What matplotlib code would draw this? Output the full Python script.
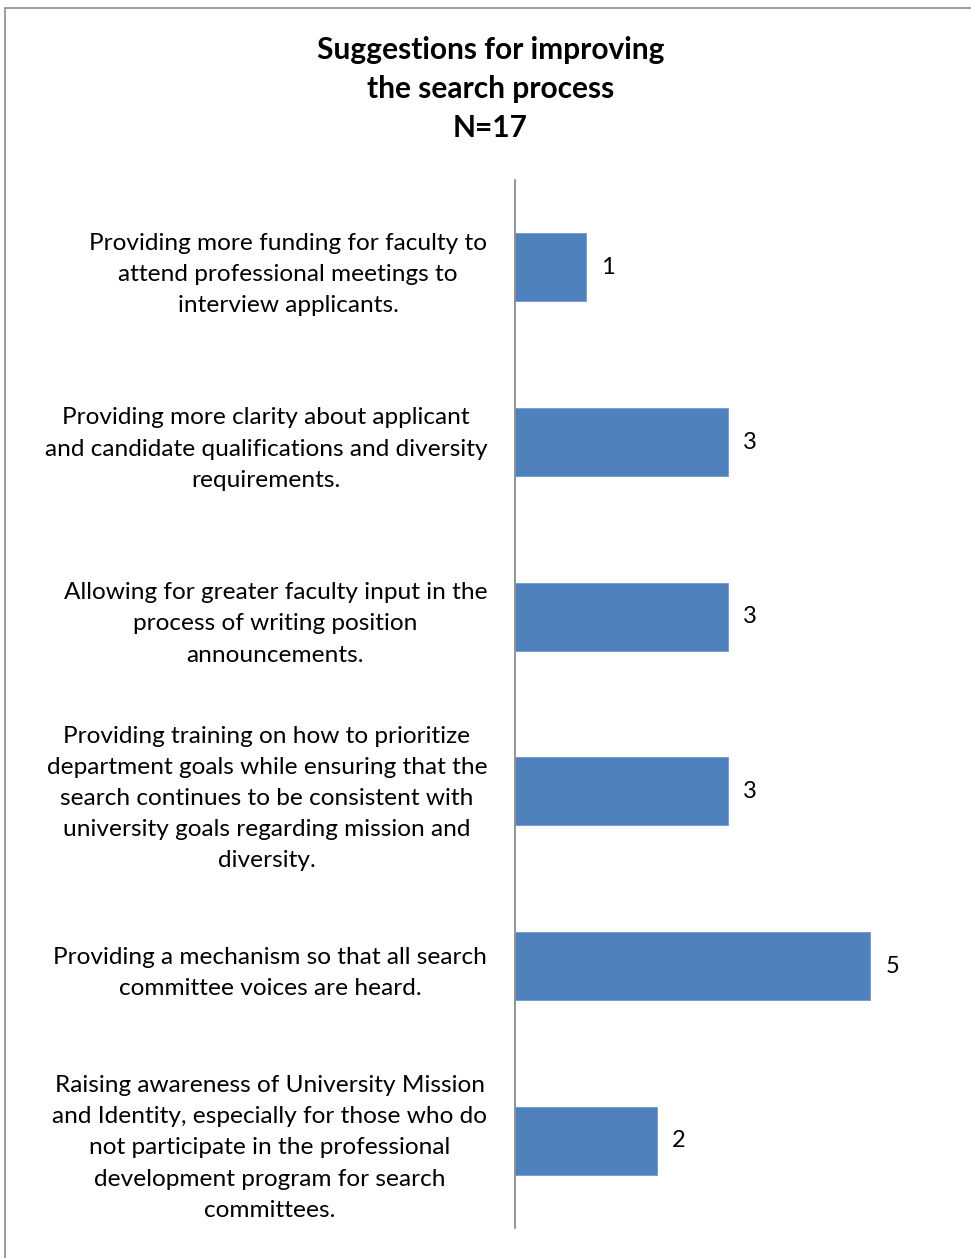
import matplotlib.pyplot as plt
from matplotlib.patches import Rectangle

plt.rcParams['font.family'] = ['Lato', 'DejaVu Sans']

TITLE = 'Suggestions for improving\nthe search process\nN=17'

suggestions = [
    'Providing more funding for faculty to\nattend professional meetings to\ninterview applicants.',
    'Providing more clarity about applicant\nand candidate qualifications and diversity\nrequirements.',
    'Allowing for greater faculty input in the\nprocess of writing position\nannouncements.',
    'Providing training on how to prioritize\ndepartment goals while ensuring that the\nsearch continues to be consistent with\nuniversity goals regarding mission and\ndiversity.',
    'Providing a mechanism so that all search\ncommittee voices are heard.',
    'Raising awareness of University Mission\nand Identity, especially for those who do\nnot participate in the professional\ndevelopment program for search\ncommittees.',
]
counts = [1, 3, 3, 3, 5, 2]

BAR_COLOR = '#4F81BD'
AXIS_COLOR = '#8C8C8C'

fig = plt.figure(figsize=(9.71, 12.58), dpi=100)
ax = fig.add_axes([0.5304, 0.0238, 0.4386, 0.8331])

pos = list(range(len(counts)))
ax.barh(pos, counts, height=0.39, color=BAR_COLOR, edgecolor='#6E9BD0', linewidth=0.6)
ax.set_ylim(len(counts) - 0.5, -0.5)
ax.set_xlim(0, 6)

for y, v in zip(pos, counts):
    ax.annotate(str(v), (v, y), xytext=(11, 0), textcoords='offset points',
                va='center', ha='left', fontsize=17)

ax.set_yticks(pos)
ax.set_yticklabels(suggestions, fontsize=17.6, multialignment='center', linespacing=1.6)
ax.tick_params(axis='y', length=0, pad=20)
ax.set_xticks([])

for side in ['top', 'right', 'bottom']:
    ax.spines[side].set_visible(False)
ax.spines['left'].set_color(AXIS_COLOR)
ax.spines['left'].set_linewidth(1.3)

fig.text(0.505, 0.929, TITLE, ha='center', va='center', fontsize=21.5,
         fontweight='bold', linespacing=1.48)

# outer chart frame
fig.patches.append(Rectangle((5 / 971, -0.05), 1.2, 1.05 - 8 / 1258,
                             transform=fig.transFigure, fill=False,
                             edgecolor='#8C8C8C', linewidth=1.2))

fig.savefig('out.png', dpi=100)
